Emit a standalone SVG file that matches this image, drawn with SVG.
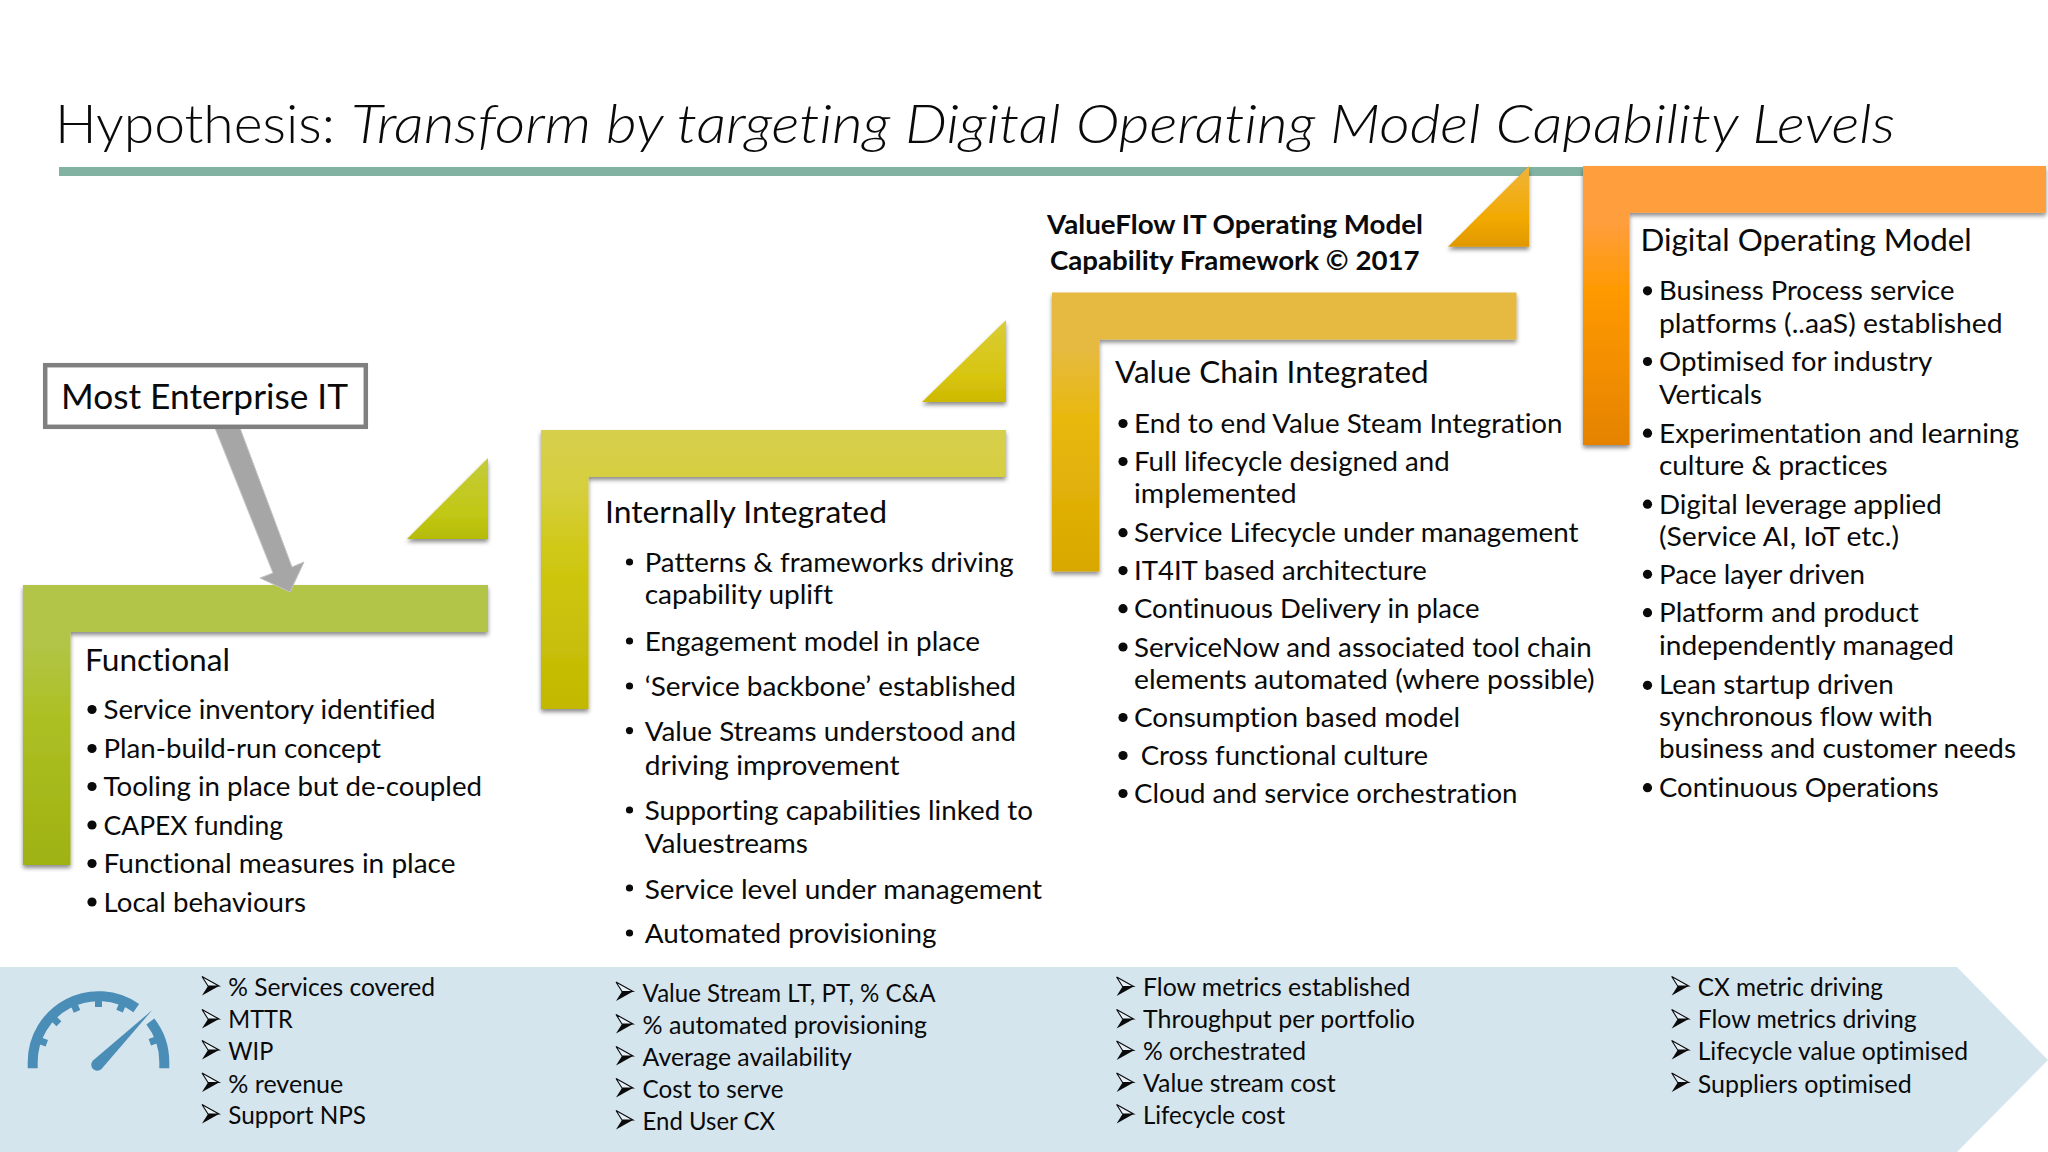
<svg xmlns="http://www.w3.org/2000/svg" xmlns:xlink="http://www.w3.org/1999/xlink" width="2048" height="1152" viewBox="0 0 2048 1152">
<style>
text{font-family:Lato,"Liberation Sans",sans-serif;fill:#0a0a0a;font-size:26.5px;font-variant-ligatures:none}
.t{font-size:54px;font-weight:300}
.ti{font-size:54px;font-weight:300;font-style:italic}
.h{font-size:31px}
.m{font-size:24.5px}
.b{font-size:26px;font-weight:700}
.box{font-size:34px}
.dot{fill:#0a0a0a}
.gauge{fill:#4a8db7}
.tick{stroke:#4a8db7;stroke-width:7}
</style>
<defs>
<filter id="sh" x="-10%" y="-10%" width="120%" height="125%"><feDropShadow dx="0" dy="3" stdDeviation="2.2" flood-color="#000" flood-opacity="0.45"/></filter>
<linearGradient id="g1" x1="0" y1="0" x2="0" y2="1"><stop offset="0" stop-color="#b2c548"/><stop offset="0.2" stop-color="#b2c548"/><stop offset="0.45" stop-color="#adc025"/><stop offset="1" stop-color="#9fb211"/></linearGradient>
<linearGradient id="g2" x1="0" y1="0" x2="0" y2="1"><stop offset="0" stop-color="#d6cf4a"/><stop offset="0.2" stop-color="#d6cf40"/><stop offset="0.45" stop-color="#cfc813"/><stop offset="1" stop-color="#c2b800"/></linearGradient>
<linearGradient id="g3" x1="0" y1="0" x2="0" y2="1"><stop offset="0" stop-color="#e6ba40"/><stop offset="0.2" stop-color="#e6ba40"/><stop offset="0.45" stop-color="#e8b80e"/><stop offset="1" stop-color="#d9a800"/></linearGradient>
<linearGradient id="g4" x1="0" y1="0" x2="0" y2="1"><stop offset="0" stop-color="#ff9e3d"/><stop offset="0.2" stop-color="#ff9e3d"/><stop offset="0.45" stop-color="#ff9900"/><stop offset="1" stop-color="#e58300"/></linearGradient>
<linearGradient id="t1" x1="0" y1="0" x2="0" y2="1"><stop offset="0" stop-color="#c3cb3a"/><stop offset="0.7" stop-color="#c2c814"/><stop offset="1" stop-color="#b5bb05"/></linearGradient>
<linearGradient id="t2" x1="0" y1="0" x2="0" y2="1"><stop offset="0" stop-color="#d9cc38"/><stop offset="0.7" stop-color="#d8c50e"/><stop offset="1" stop-color="#ccb800"/></linearGradient>
<linearGradient id="t3" x1="0" y1="0" x2="0" y2="1"><stop offset="0" stop-color="#f0b43a"/><stop offset="0.65" stop-color="#f2a900"/><stop offset="1" stop-color="#e09800"/></linearGradient>
<g id="ah"><path d="M0,0 L17,9.5 L6,9.5 Z" fill="#fff" fill-opacity="0.4" stroke="#0a0a0a" stroke-width="1.1" stroke-linejoin="miter"/><path d="M6,9.5 L17,9.5 L0,19 Z" fill="#0a0a0a"/></g>
</defs>
<rect width="2048" height="1152" fill="#fff"/>
<g id="title">
<text class="t" x="55" y="143" textLength="280" lengthAdjust="spacingAndGlyphs">Hypothesis:</text>
<text class="ti" x="351" y="143" textLength="1544" lengthAdjust="spacingAndGlyphs">Transform by targeting Digital Operating Model Capability Levels</text>
<rect x="59" y="167" width="1540" height="9" fill="#82b3a2"/>
</g>
<g id="metrics-band">
<polygon points="0,967 1957,967 2048,1060 1957,1152 0,1152" fill="#d5e5ee"/>
</g>
<g id="gauge">
<path class="gauge" d="M27.7,1068.3 L27.7,1062 A70.8,70.8 0 0 1 139.1,1004 L133.4,1012.2 A60.8,60.8 0 0 0 37.7,1062 L37.7,1068.3 Z"/>
<path class="gauge" d="M154.3,1018.4 A70.8,70.8 0 0 1 169.3,1062 L169.3,1068.3 L159.3,1068.3 L159.3,1062 A60.8,60.8 0 0 0 146.4,1024.6 Z"/>
<g class="tick">
<line x1="98.5" y1="999" x2="98.5" y2="1007"/>
<line x1="98.5" y1="999" x2="98.5" y2="1007" transform="rotate(-70 98.5 1062)"/>
<line x1="98.5" y1="999" x2="98.5" y2="1007" transform="rotate(-46 98.5 1062)"/>
<line x1="98.5" y1="999" x2="98.5" y2="1007" transform="rotate(-23 98.5 1062)"/>
<line x1="98.5" y1="999" x2="98.5" y2="1007" transform="rotate(22.5 98.5 1062)"/>
<line x1="98.5" y1="999" x2="98.5" y2="1007" transform="rotate(69 98.5 1062)"/>
</g>
<path class="gauge" d="M152.3,1010 L101.5,1069 A6,6 0 0 1 93,1060.5 Z"/>
</g>

<g id="node-functional">
<polygon points="23,585 488,585 488,632 70.5,632 70.5,865 23,865" fill="url(#g1)" filter="url(#sh)"/>
<polygon points="488,458 488,539 407,539" fill="url(#t1)" filter="url(#sh)"/>
<text class="h" x="85" y="670.5" textLength="145" lengthAdjust="spacingAndGlyphs">Functional</text>
<g class="dot"><circle cx="92" cy="709.5" r="4.6"/><circle cx="92" cy="748.5" r="4.6"/><circle cx="92" cy="786.5" r="4.6"/><circle cx="92" cy="825" r="4.6"/><circle cx="92" cy="863.5" r="4.6"/><circle cx="92" cy="902" r="4.6"/></g>
<text x="103.5" y="719" textLength="332" lengthAdjust="spacingAndGlyphs">Service inventory identified</text>
<text x="103.5" y="758" textLength="277.5" lengthAdjust="spacingAndGlyphs">Plan-build-run concept</text>
<text x="103.5" y="796" textLength="378.5" lengthAdjust="spacingAndGlyphs">Tooling in place but de-coupled</text>
<text x="103.5" y="834.5" textLength="179.5" lengthAdjust="spacingAndGlyphs">CAPEX funding</text>
<text x="103.5" y="873" textLength="352" lengthAdjust="spacingAndGlyphs">Functional measures in place</text>
<text x="103.5" y="911.5" textLength="202.5" lengthAdjust="spacingAndGlyphs">Local behaviours</text>
</g>

<g id="node-internally-integrated">
<polygon points="541,430 1006,430 1006,477 588.5,477 588.5,709 541,709" fill="url(#g2)" filter="url(#sh)"/>
<polygon points="1006,320 1006,402 922,402" fill="url(#t2)" filter="url(#sh)"/>
<text class="h" x="605" y="523" textLength="282" lengthAdjust="spacingAndGlyphs">Internally Integrated</text>
<g class="dot"><circle cx="629.5" cy="562" r="3.6"/><circle cx="629.5" cy="641" r="3.6"/><circle cx="629.5" cy="686" r="3.6"/><circle cx="629.5" cy="730.6" r="3.6"/><circle cx="629.5" cy="810" r="3.6"/><circle cx="629.5" cy="888" r="3.6"/><circle cx="629.5" cy="933" r="3.6"/></g>
<text x="644.7" y="571.5" textLength="369" lengthAdjust="spacingAndGlyphs">Patterns &amp; frameworks driving</text>
<text x="644.7" y="604" textLength="188.3" lengthAdjust="spacingAndGlyphs">capability uplift</text>
<text x="644.7" y="651" textLength="335.3" lengthAdjust="spacingAndGlyphs">Engagement model in place</text>
<text x="644.7" y="695.5" textLength="371.3" lengthAdjust="spacingAndGlyphs">‘Service backbone’ established</text>
<text x="644.7" y="741" textLength="371.3" lengthAdjust="spacingAndGlyphs">Value Streams understood and</text>
<text x="644.7" y="775" textLength="254.8" lengthAdjust="spacingAndGlyphs">driving improvement</text>
<text x="644.7" y="819.5" textLength="388.3" lengthAdjust="spacingAndGlyphs">Supporting capabilities linked to</text>
<text x="644.7" y="853" textLength="163.3" lengthAdjust="spacingAndGlyphs">Valuestreams</text>
<text x="644.7" y="898.6" textLength="397.3" lengthAdjust="spacingAndGlyphs">Service level under management</text>
<text x="644.7" y="942.7" textLength="291.9" lengthAdjust="spacingAndGlyphs">Automated provisioning</text>
</g>

<g id="node-value-chain-integrated">
<polygon points="1052,292.5 1516.5,292.5 1516.5,339.5 1099.5,339.5 1099.5,571.5 1052,571.5" fill="url(#g3)" filter="url(#sh)"/>
<polygon points="1529,166 1529,246.7 1448,246.7" fill="url(#t3)" filter="url(#sh)"/>
<text class="b" x="1047" y="234" textLength="376" lengthAdjust="spacingAndGlyphs">ValueFlow IT Operating Model</text>
<text class="b" x="1050" y="270" textLength="369.6" lengthAdjust="spacingAndGlyphs">Capability Framework © 2017</text>
<text class="h" x="1115" y="383.3" textLength="313.7" lengthAdjust="spacingAndGlyphs">Value Chain Integrated</text>
<g class="dot"><circle cx="1123" cy="423.5" r="4.6"/><circle cx="1123" cy="461.5" r="4.6"/><circle cx="1123" cy="532.7" r="4.6"/><circle cx="1123" cy="570.6" r="4.6"/><circle cx="1123" cy="608.7" r="4.6"/><circle cx="1123" cy="647" r="4.6"/><circle cx="1123" cy="717.5" r="4.6"/><circle cx="1123" cy="755.5" r="4.6"/><circle cx="1123" cy="793.5" r="4.6"/></g>
<text x="1134" y="432.8" textLength="428.6" lengthAdjust="spacingAndGlyphs">End to end Value Steam Integration</text>
<text x="1134" y="470.8" textLength="315.7" lengthAdjust="spacingAndGlyphs">Full lifecycle designed and</text>
<text x="1134" y="502.8" textLength="162.6" lengthAdjust="spacingAndGlyphs">implemented</text>
<text x="1134" y="542" textLength="444.4" lengthAdjust="spacingAndGlyphs">Service Lifecycle under management</text>
<text x="1134" y="580" textLength="292.8" lengthAdjust="spacingAndGlyphs">IT4IT based architecture</text>
<text x="1134" y="618.2" textLength="345.5" lengthAdjust="spacingAndGlyphs">Continuous Delivery in place</text>
<text x="1134" y="656.5" textLength="457.6" lengthAdjust="spacingAndGlyphs">ServiceNow and associated tool chain</text>
<text x="1134" y="688.5" textLength="460.6" lengthAdjust="spacingAndGlyphs">elements automated (where possible)</text>
<text x="1134" y="726.8" textLength="326" lengthAdjust="spacingAndGlyphs">Consumption based model</text>
<text x="1140.7" y="764.8" textLength="287.3" lengthAdjust="spacingAndGlyphs">Cross functional culture</text>
<text x="1134" y="802.8" textLength="383.5" lengthAdjust="spacingAndGlyphs">Cloud and service orchestration</text>
</g>

<g id="node-digital-operating-model">
<polygon points="1583,166 2046,166 2046,212.7 1629.5,212.7 1629.5,445 1583,445" fill="url(#g4)" filter="url(#sh)"/>
<text class="h" x="1640.5" y="251" textLength="331.2" lengthAdjust="spacingAndGlyphs">Digital Operating Model</text>
<g class="dot"><circle cx="1647.5" cy="290.8" r="4.6"/><circle cx="1647.5" cy="361.5" r="4.6"/><circle cx="1647.5" cy="433.2" r="4.6"/><circle cx="1647.5" cy="504.2" r="4.6"/><circle cx="1647.5" cy="574.3" r="4.6"/><circle cx="1647.5" cy="612.7" r="4.6"/><circle cx="1647.5" cy="685.3" r="4.6"/><circle cx="1647.5" cy="787.7" r="4.6"/></g>
<text x="1659" y="300.3" textLength="295.4" lengthAdjust="spacingAndGlyphs">Business Process service</text>
<text x="1659" y="332.7" textLength="343.5" lengthAdjust="spacingAndGlyphs">platforms (..aaS) established</text>
<text x="1659" y="371" textLength="273.4" lengthAdjust="spacingAndGlyphs">Optimised for industry</text>
<text x="1659" y="404.3" textLength="103" lengthAdjust="spacingAndGlyphs">Verticals</text>
<text x="1659" y="442.7" textLength="360" lengthAdjust="spacingAndGlyphs">Experimentation and learning</text>
<text x="1659" y="475.3" textLength="228.7" lengthAdjust="spacingAndGlyphs">culture &amp; practices</text>
<text x="1659" y="513.5" textLength="282.7" lengthAdjust="spacingAndGlyphs">Digital leverage applied</text>
<text x="1659" y="545.8" textLength="240" lengthAdjust="spacingAndGlyphs">(Service AI, IoT etc.)</text>
<text x="1659" y="583.8" textLength="206" lengthAdjust="spacingAndGlyphs">Pace layer driven</text>
<text x="1659" y="621.7" textLength="259.7" lengthAdjust="spacingAndGlyphs">Platform and product</text>
<text x="1659" y="655" textLength="295" lengthAdjust="spacingAndGlyphs">independently managed</text>
<text x="1659" y="694.3" textLength="234.7" lengthAdjust="spacingAndGlyphs">Lean startup driven</text>
<text x="1659" y="726" textLength="273.7" lengthAdjust="spacingAndGlyphs">synchronous flow with</text>
<text x="1659" y="758.3" textLength="357" lengthAdjust="spacingAndGlyphs">business and customer needs</text>
<text x="1659" y="796.7" textLength="279.7" lengthAdjust="spacingAndGlyphs">Continuous Operations</text>
</g>

<g id="connectors">
<polygon points="215,428 240,428 292,567 304,562 290,592 260,578 273,573" fill="#a6a6a6" stroke="#c4c4c4" stroke-width="1"/>
</g>

<g id="node-most-enterprise-it">
<rect x="45.2" y="365.2" width="320.6" height="61.6" fill="#fff" stroke="#808080" stroke-width="4.5"/>
<text class="box" x="61" y="409" textLength="287" lengthAdjust="spacingAndGlyphs">Most Enterprise IT</text>
</g>

<g id="metrics-1">
<use xlink:href="#ah" href="#ah" x="202" y="976.5"/><use xlink:href="#ah" href="#ah" x="202" y="1009.5"/><use xlink:href="#ah" href="#ah" x="202" y="1040.5"/><use xlink:href="#ah" href="#ah" x="202" y="1073"/><use xlink:href="#ah" href="#ah" x="202" y="1104.5"/>
<text class="m" x="228.3" y="995.7" textLength="206.7" lengthAdjust="spacingAndGlyphs">% Services covered</text>
<text class="m" x="228.3" y="1028.3" textLength="64.4" lengthAdjust="spacingAndGlyphs">MTTR</text>
<text class="m" x="228.3" y="1060" textLength="45" lengthAdjust="spacingAndGlyphs">WIP</text>
<text class="m" x="228.3" y="1092.7" textLength="115" lengthAdjust="spacingAndGlyphs">% revenue</text>
<text class="m" x="228.3" y="1124.3" textLength="137.7" lengthAdjust="spacingAndGlyphs">Support NPS</text>
</g>
<g id="metrics-2">
<use xlink:href="#ah" href="#ah" x="616" y="982"/><use xlink:href="#ah" href="#ah" x="616" y="1014.5"/><use xlink:href="#ah" href="#ah" x="616" y="1046.5"/><use xlink:href="#ah" href="#ah" x="616" y="1078.5"/><use xlink:href="#ah" href="#ah" x="616" y="1110.5"/>
<text class="m" x="642.6" y="1001.7" textLength="293.1" lengthAdjust="spacingAndGlyphs">Value Stream LT, PT, % C&amp;A</text>
<text class="m" x="642.6" y="1034" textLength="284.4" lengthAdjust="spacingAndGlyphs">% automated provisioning</text>
<text class="m" x="642.6" y="1066" textLength="209.3" lengthAdjust="spacingAndGlyphs">Average availability</text>
<text class="m" x="642.6" y="1097.7" textLength="140.9" lengthAdjust="spacingAndGlyphs">Cost to serve</text>
<text class="m" x="642.6" y="1130" textLength="132.4" lengthAdjust="spacingAndGlyphs">End User CX</text>
</g>
<g id="metrics-3">
<use xlink:href="#ah" href="#ah" x="1116.6" y="977"/><use xlink:href="#ah" href="#ah" x="1116.6" y="1009.5"/><use xlink:href="#ah" href="#ah" x="1116.6" y="1041"/><use xlink:href="#ah" href="#ah" x="1116.6" y="1073"/><use xlink:href="#ah" href="#ah" x="1116.6" y="1104.5"/>
<text class="m" x="1143" y="996" textLength="267.4" lengthAdjust="spacingAndGlyphs">Flow metrics established</text>
<text class="m" x="1143" y="1028" textLength="272" lengthAdjust="spacingAndGlyphs">Throughput per portfolio</text>
<text class="m" x="1143" y="1060" textLength="163" lengthAdjust="spacingAndGlyphs">% orchestrated</text>
<text class="m" x="1143" y="1092.3" textLength="192.8" lengthAdjust="spacingAndGlyphs">Value stream cost</text>
<text class="m" x="1143" y="1124" textLength="142" lengthAdjust="spacingAndGlyphs">Lifecycle cost</text>
</g>
<g id="metrics-4">
<use xlink:href="#ah" href="#ah" x="1671.7" y="976.5"/><use xlink:href="#ah" href="#ah" x="1671.7" y="1009.5"/><use xlink:href="#ah" href="#ah" x="1671.7" y="1040.5"/><use xlink:href="#ah" href="#ah" x="1671.7" y="1073"/>
<text class="m" x="1697.7" y="995.7" textLength="185.3" lengthAdjust="spacingAndGlyphs">CX metric driving</text>
<text class="m" x="1697.7" y="1028" textLength="219" lengthAdjust="spacingAndGlyphs">Flow metrics driving</text>
<text class="m" x="1697.7" y="1060" textLength="270.3" lengthAdjust="spacingAndGlyphs">Lifecycle value optimised</text>
<text class="m" x="1697.7" y="1092.7" textLength="214" lengthAdjust="spacingAndGlyphs">Suppliers optimised</text>
</g>
</svg>
